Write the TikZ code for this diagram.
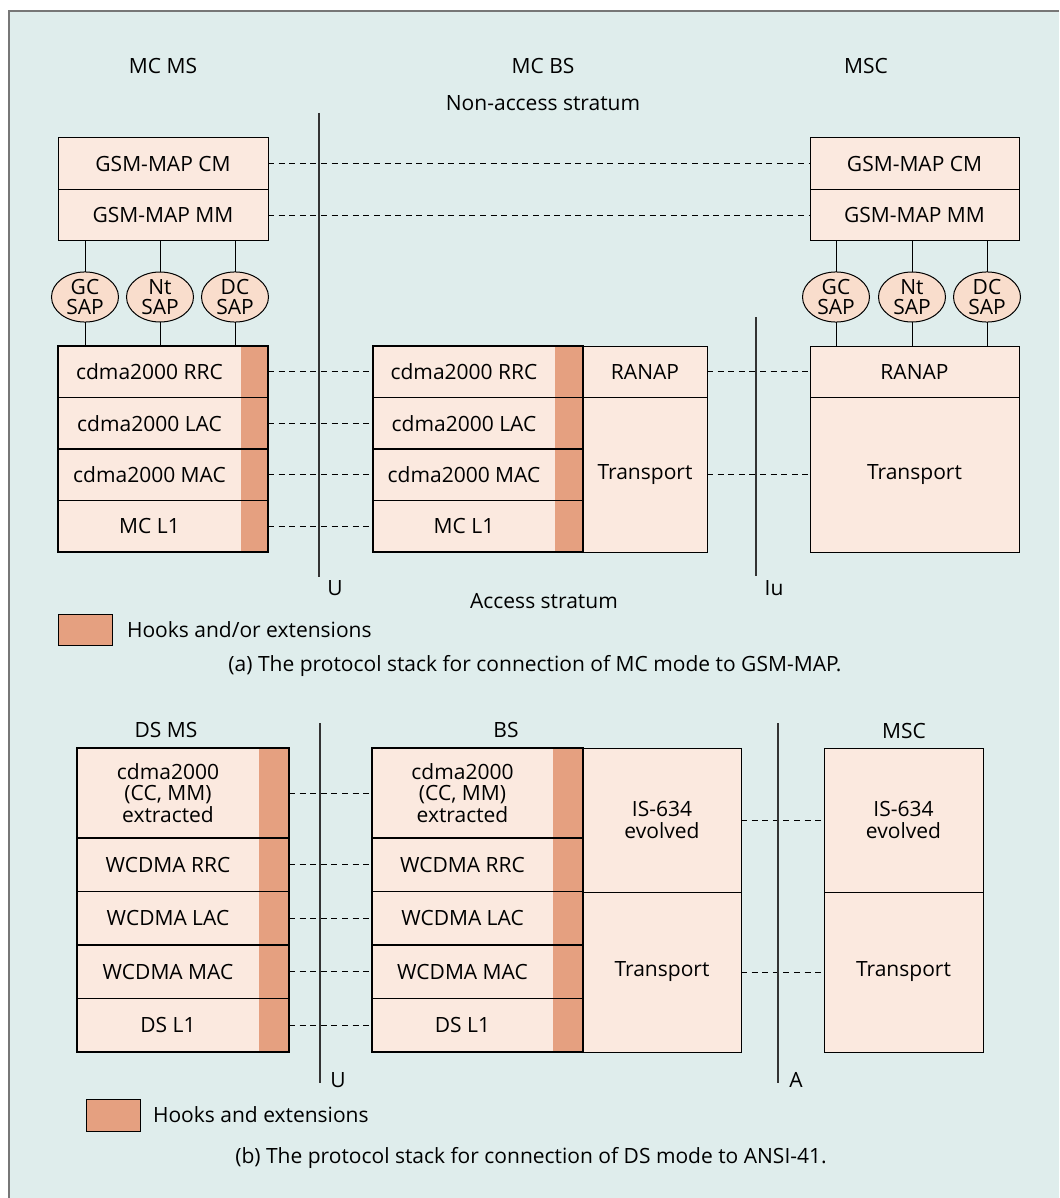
\documentclass[tikz,border=0pt]{standalone}
\usepackage{fontspec}
\setmainfont{Open Sans}
\usetikzlibrary{positioning}
\usetikzlibrary{shapes.geometric}

\definecolor{bgc}{HTML}{DFEDEC}
\definecolor{layerc}{HTML}{FBE9DF}
\definecolor{hookc}{HTML}{E5A080}
\definecolor{sapc}{HTML}{F9DDCC}
\definecolor{framec}{HTML}{777777}

\begin{document}
\begin{tikzpicture}[x=0.5pt, y=-0.5pt,
    every node/.style={font=\fontsize{10.5}{10.6}\selectfont, inner sep=0pt, outer sep=0pt},
    layer/.style={draw, fill=layerc, line width=0.5pt, align=center},
    hlayer/.style={fill=layerc, align=center},
    hook/.style={fill=hookc},
    hookline/.style={line width=0.8pt},
    sap/.style={ellipse, draw, fill=sapc, line width=0.5pt, minimum width=33.5pt,
      minimum height=25pt, align=center, font=\fontsize{10.5}{10}\selectfont},
    peer/.style={line width=0.5pt, dash pattern=on 3pt off 2.3pt},
    iface/.style={line width=0.6pt, draw=black!80}]

    % frame
    \useasboundingbox (0,0) rectangle (1059,1198);
    \fill[white] (0,0) rectangle (1059,1198);
    \fill[bgc] (9,11) rectangle (1059,1198);
    \draw[framec, line width=1pt] (9,1198) -- (9,11) -- (1059,11);

    % ---------------- (a) ----------------
    \node (hmcms) at (163,66) {MC MS};
    \node (hmcbs) at (543,66) {MC BS};
    \node (hmsca) at (866,66) {MSC};
    \node (nas) at (543,103) {Non-access stratum};
    \node (as) at (544,601) {Access stratum};

    % MC MS
    \node[layer, minimum width=105pt, minimum height=25.75pt, anchor=north west] (mcm) at (58,138) {GSM-MAP CM};
    \node[layer, minimum width=105pt, minimum height=25.75pt, below=0pt of mcm] (mmm) {GSM-MAP MM};
    \node[sap] (mgc) at (85,297) {GC\\SAP};
    \node[sap] (mnt) at (160,297) {Nt\\SAP};
    \node[sap] (mdc) at (235,297) {DC\\SAP};

    \node[hlayer, minimum width=91.5pt, minimum height=25.75pt, anchor=north west] (ma1) at (58,346) {cdma2000 RRC};
    \node[hlayer, minimum width=91.5pt, minimum height=25.75pt, below=0pt of ma1] (ma2) {cdma2000 LAC};
    \node[hlayer, minimum width=91.5pt, minimum height=25.75pt, below=0pt of ma2] (ma3) {cdma2000 MAC};
    \node[hlayer, minimum width=91.5pt, minimum height=25.75pt, below=0pt of ma3] (ma4) {MC L1};
    \node[hook, minimum width=13.5pt, minimum height=25.75pt, right=0pt of ma1] (ma1h) {};
    \node[hook, minimum width=13.5pt, minimum height=25.75pt, right=0pt of ma2] (ma2h) {};
    \node[hook, minimum width=13.5pt, minimum height=25.75pt, right=0pt of ma3] (ma3h) {};
    \node[hook, minimum width=13.5pt, minimum height=25.75pt, right=0pt of ma4] (ma4h) {};
    \draw[hookline] (ma1.north west) rectangle (ma1h.south east);
    \draw[hookline] (ma2.north west) rectangle (ma2h.south east);
    \draw[hookline] (ma3.north west) rectangle (ma3h.south east);
    \draw[hookline] (ma4.north west) rectangle (ma4h.south east);

    \draw[line width=0.5pt] (mgc) -- (mgc |- mmm.south);
    \draw[line width=0.5pt] (mnt) -- (mnt |- mmm.south);
    \draw[line width=0.5pt] (mdc) -- (mdc |- mmm.south);
    \draw[line width=0.5pt] (mgc) -- (mgc |- ma1.north);
    \draw[line width=0.5pt] (mnt) -- (mnt |- ma1.north);
    \draw[line width=0.5pt] (mdc) -- (mdc |- ma1.north);

    % MC BS
    \node[hlayer, minimum width=91pt, minimum height=25.75pt, anchor=north west] (ba1) at (373,346) {cdma2000 RRC};
    \node[hlayer, minimum width=91pt, minimum height=25.75pt, below=0pt of ba1] (ba2) {cdma2000 LAC};
    \node[hlayer, minimum width=91pt, minimum height=25.75pt, below=0pt of ba2] (ba3) {cdma2000 MAC};
    \node[hlayer, minimum width=91pt, minimum height=25.75pt, below=0pt of ba3] (ba4) {MC L1};
    \node[hook, minimum width=14pt, minimum height=25.75pt, right=0pt of ba1] (ba1h) {};
    \node[hook, minimum width=14pt, minimum height=25.75pt, right=0pt of ba2] (ba2h) {};
    \node[hook, minimum width=14pt, minimum height=25.75pt, right=0pt of ba3] (ba3h) {};
    \node[hook, minimum width=14pt, minimum height=25.75pt, right=0pt of ba4] (ba4h) {};
    \node[layer, minimum width=62pt, minimum height=25.75pt, right=0pt of ba1h] (branap) {RANAP};
    \node[layer, minimum width=62pt, minimum height=77.25pt, below=0pt of branap] (btrans) {Transport};
    \draw[hookline] (ba1.north west) rectangle (ba1h.south east);
    \draw[hookline] (ba2.north west) rectangle (ba2h.south east);
    \draw[hookline] (ba3.north west) rectangle (ba3h.south east);
    \draw[hookline] (ba4.north west) rectangle (ba4h.south east);

    % MSC
    \node[layer, minimum width=104.5pt, minimum height=25.75pt, anchor=north west] (rcm) at (810,138) {GSM-MAP CM};
    \node[layer, minimum width=104.5pt, minimum height=25.75pt, below=0pt of rcm] (rmm) {GSM-MAP MM};
    \node[sap] (rgc) at (836,297) {GC\\SAP};
    \node[sap] (rnt) at (912,297) {Nt\\SAP};
    \node[sap] (rdc) at (987,297) {DC\\SAP};
    \node[layer, minimum width=104.5pt, minimum height=25.75pt, anchor=north west] (rranap) at (810,346) {RANAP};
    \node[layer, minimum width=104.5pt, minimum height=77.25pt, below=0pt of rranap] (rtrans) {Transport};

    \draw[line width=0.5pt] (rgc) -- (rgc |- rmm.south);
    \draw[line width=0.5pt] (rnt) -- (rnt |- rmm.south);
    \draw[line width=0.5pt] (rdc) -- (rdc |- rmm.south);
    \draw[line width=0.5pt] (rgc) -- (rgc |- rranap.north);
    \draw[line width=0.5pt] (rnt) -- (rnt |- rranap.north);
    \draw[line width=0.5pt] (rdc) -- (rdc |- rranap.north);

    % peer links
    \draw[peer] (mcm.east) -- (rcm.west);
    \draw[peer] (mmm.east) -- (rmm.west);
    \draw[peer] (ma1h.east) -- (ba1.west);
    \draw[peer] (ma2h.east) -- (ba2.west);
    \draw[peer] (ma3h.east) -- (ba3.west);
    \draw[peer] (ma4h.east) -- (ba4.west);
    \draw[peer] (branap.east) -- (rranap.west);
    \draw[peer] (btrans.east) -- (rtrans.west);

    % interfaces
    \coordinate (ua1) at (319,113);
    \coordinate (ua2) at (319,577);
    \draw[iface] (ua1) -- (ua2);
    \node (ula) at (335,588) {U};
    \coordinate (iua1) at (756,317);
    \coordinate (iua2) at (756,576);
    \draw[iface] (iua1) -- (iua2);
    \node (iula) at (774,588) {Iu};

    % key
    \node[draw, fill=hookc, line width=0.5pt, minimum width=27pt, minimum height=15.5pt, anchor=north west] (keya) at (58,614) {};
    \node[right=7.5pt of keya] (keyatxt) {Hooks and/or extensions};
    \node (capa) at (535,666) {(a) The protocol stack for connection of MC mode to GSM-MAP.};

    % ---------------- (b) ----------------
    \node (hdsms) at (166,730) {DS MS};
    \node (hbs) at (506,730) {BS};
    \node (hmscb) at (904,731) {MSC};

    % DS MS
    \node[hlayer, minimum width=91pt, minimum height=45pt, anchor=north west] (db0) at (77,748) {cdma2000\\(CC, MM)\\extracted};
    \node[hlayer, minimum width=91pt, minimum height=26.75pt, below=0pt of db0] (db1) {WCDMA RRC};
    \node[hlayer, minimum width=91pt, minimum height=26.75pt, below=0pt of db1] (db2) {WCDMA LAC};
    \node[hlayer, minimum width=91pt, minimum height=26.75pt, below=0pt of db2] (db3) {WCDMA MAC};
    \node[hlayer, minimum width=91pt, minimum height=26.75pt, below=0pt of db3] (db4) {DS L1};
    \node[hook, minimum width=15pt, minimum height=45pt, right=0pt of db0] (db0h) {};
    \node[hook, minimum width=15pt, minimum height=26.75pt, right=0pt of db1] (db1h) {};
    \node[hook, minimum width=15pt, minimum height=26.75pt, right=0pt of db2] (db2h) {};
    \node[hook, minimum width=15pt, minimum height=26.75pt, right=0pt of db3] (db3h) {};
    \node[hook, minimum width=15pt, minimum height=26.75pt, right=0pt of db4] (db4h) {};
    \draw[hookline] (db0.north west) rectangle (db0h.south east);
    \draw[hookline] (db1.north west) rectangle (db1h.south east);
    \draw[hookline] (db2.north west) rectangle (db2h.south east);
    \draw[hookline] (db3.north west) rectangle (db3h.south east);
    \draw[hookline] (db4.north west) rectangle (db4h.south east);

    % BS
    \node[hlayer, minimum width=90.5pt, minimum height=45pt, anchor=north west] (bb0) at (372,748) {cdma2000\\(CC, MM)\\extracted};
    \node[hlayer, minimum width=90.5pt, minimum height=26.75pt, below=0pt of bb0] (bb1) {WCDMA RRC};
    \node[hlayer, minimum width=90.5pt, minimum height=26.75pt, below=0pt of bb1] (bb2) {WCDMA LAC};
    \node[hlayer, minimum width=90.5pt, minimum height=26.75pt, below=0pt of bb2] (bb3) {WCDMA MAC};
    \node[hlayer, minimum width=90.5pt, minimum height=26.75pt, below=0pt of bb3] (bb4) {DS L1};
    \node[hook, minimum width=15pt, minimum height=45pt, right=0pt of bb0] (bb0h) {};
    \node[hook, minimum width=15pt, minimum height=26.75pt, right=0pt of bb1] (bb1h) {};
    \node[hook, minimum width=15pt, minimum height=26.75pt, right=0pt of bb2] (bb2h) {};
    \node[hook, minimum width=15pt, minimum height=26.75pt, right=0pt of bb3] (bb3h) {};
    \node[hook, minimum width=15pt, minimum height=26.75pt, right=0pt of bb4] (bb4h) {};
    \node[layer, minimum width=79pt, minimum height=72pt, anchor=north west] (bis) at (583,748) {IS-634\\evolved};
    \node[layer, minimum width=79pt, minimum height=80pt, below=0pt of bis] (btr) {Transport};
    \draw[hookline] (bb0.north west) rectangle (bb0h.south east);
    \draw[hookline] (bb1.north west) rectangle (bb1h.south east);
    \draw[hookline] (bb2.north west) rectangle (bb2h.south east);
    \draw[hookline] (bb3.north west) rectangle (bb3h.south east);
    \draw[hookline] (bb4.north west) rectangle (bb4h.south east);

    % MSC
    \node[layer, minimum width=79.5pt, minimum height=72pt, anchor=north west] (mis) at (824,748) {IS-634\\evolved};
    \node[layer, minimum width=79.5pt, minimum height=80pt, below=0pt of mis] (mtr) {Transport};

    % peer links
    \draw[peer] (db0h.east) -- (bb0.west);
    \draw[peer] (db1h.east) -- (bb1.west);
    \draw[peer] (db2h.east) -- (bb2.west);
    \draw[peer] (db3h.east) -- (bb3.west);
    \draw[peer] (db4h.east) -- (bb4.west);
    \draw[peer] (bis.east) -- (mis.west);
    \draw[peer] (btr.east) -- (mtr.west);

    % interfaces
    \coordinate (ub1) at (320,723);
    \coordinate (ub2) at (320,1083);
    \draw[iface] (ub1) -- (ub2);
    \node (ulb) at (338,1080) {U};
    \coordinate (ab1) at (778,723);
    \coordinate (ab2) at (778,1083);
    \draw[iface] (ab1) -- (ab2);
    \node (alb) at (796,1080) {A};

    % key
    \node[draw, fill=hookc, line width=0.5pt, minimum width=27pt, minimum height=16pt, anchor=north west] (keyb) at (86,1099) {};
    \node[right=6.5pt of keyb] (keybtxt) {Hooks and extensions};
    \node (capb) at (531,1158) {(b) The protocol stack for connection of DS mode to ANSI-41.};
\end{tikzpicture}
\end{document}
